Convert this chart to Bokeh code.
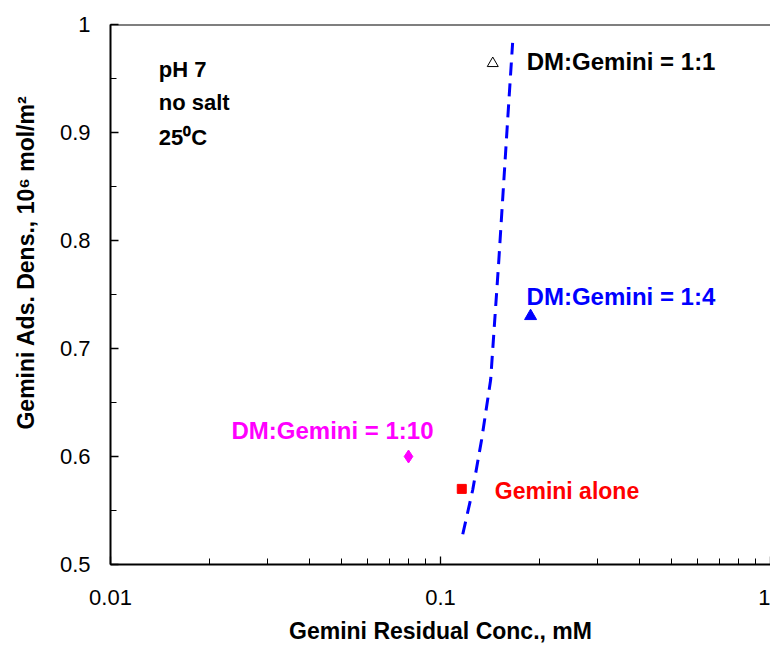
import numpy as np
from bokeh.plotting import figure
from bokeh.models import (Range1d, FixedTicker, SingleIntervalTicker,
                          CustomJSTickFormatter, Label, Span)
from bokeh.embed import file_html
from bokeh.resources import INLINE

# ---- data ----
alone_x = [0.116]
alone_y = [0.570]
r1_10_x = [0.080]
r1_10_y = [0.600]
r1_4_x = [0.1875]
r1_4_y = [0.730]
r1_1_x = [0.144]
r1_1_y = [0.964]
fit_x = [0.1168, 0.1252, 0.1333, 0.1419, 0.1501, 0.1598, 0.1654]
fit_y = [0.528, 0.569, 0.616, 0.671, 0.780, 0.912, 0.983]
x_major_ticks = [0.01, 0.1, 1.0]
x_minor_ticks = [m * 10.0 ** e for e in (-2, -1) for m in range(2, 10)]

FONT = "Liberation Sans"

p = figure(width=770, height=646, x_axis_type="log",
           x_range=Range1d(0.01, 1.0), y_range=Range1d(0.5, 1.0),
           output_backend="svg", toolbar_location=None,
           min_border_left=110, min_border_right=0,
           min_border_top=24, min_border_bottom=81)
p.xgrid.visible = False
p.ygrid.visible = False
p.outline_line_color = None
p.background_fill_color = "white"
p.border_fill_color = "white"

fmt = CustomJSTickFormatter(code="return String(parseFloat(tick.toPrecision(6)))")

p.xaxis[0].ticker = FixedTicker(ticks=x_major_ticks, minor_ticks=x_minor_ticks)
p.yaxis[0].ticker = SingleIntervalTicker(interval=0.1, num_minor_ticks=2)
for ax in (p.xaxis[0], p.yaxis[0]):
    ax.formatter = fmt
    ax.axis_line_width = 2
    ax.axis_line_color = "black"
    ax.major_tick_in = 8
    ax.major_tick_out = 0
    ax.minor_tick_in = 6
    ax.minor_tick_out = 0
    ax.major_tick_line_color = "black"
    ax.minor_tick_line_color = "black"
    ax.major_tick_line_width = 1.3
    ax.minor_tick_line_width = 1
    ax.major_label_text_font = FONT
    ax.major_label_text_font_size = "22px"
    ax.major_label_text_color = "black"
    ax.axis_label_text_font = FONT
    ax.axis_label_text_font_style = "bold"
    ax.axis_label_text_font_size = "23px"
    ax.axis_label_text_color = "black"

p.xaxis[0].major_label_standoff = 25
p.yaxis[0].major_label_standoff = 20
p.xaxis[0].axis_label = "Gemini Residual Conc., mM"
p.xaxis[0].axis_label_standoff = 10
pad = "\u00a0" * 10
p.yaxis[0].axis_label = pad + "Gemini Ads. Dens., 10\u2076 mol/m\u00b2"
p.yaxis[0].axis_label_standoff = 18

# top border line
p.add_layout(Span(location=1.0, dimension="width", line_color="black", line_width=2))

# fitted curve
p.line(fit_x, fit_y, line_color="#0000FF", line_width=3, line_dash="13 8")

# points
p.scatter(r1_1_x, r1_1_y, marker="triangle", size=11, fill_color=None,
          line_color="black", line_width=1)
p.scatter(r1_4_x, r1_4_y, marker="triangle", size=12, fill_color="#0000FF",
          line_color="#0000FF")
p.scatter(r1_10_x, r1_10_y, marker="diamond", size=13, fill_color="#FF00FF",
          line_color="#FF00FF")
p.scatter(alone_x, alone_y, marker="square", size=9, fill_color="#FF0000",
          line_color="#FF0000")


def lab(x, y, text, color, size, dx=0, dy=0, align="left"):
    p.add_layout(Label(x=x, y=y, x_offset=dx, y_offset=dy, text=text,
                       text_font=FONT, text_font_style="bold",
                       text_font_size=size, text_color=color,
                       text_align=align, text_baseline="alphabetic"))


lab(r1_1_x[0], r1_1_y[0], "DM:Gemini = 1:1", "black", "24px", dx=34, dy=2)
lab(r1_4_x[0], r1_4_y[0], "DM:Gemini = 1:4", "#0000FF", "24px", dx=-4, dy=20)
lab(r1_10_x[0], r1_10_y[0], "DM:Gemini = 1:10", "#FF00FF", "24px", dx=-76, dy=26,
    align="center")
lab(alone_x[0], alone_y[0], "Gemini alone", "#FF0000", "23px", dx=33, dy=-2)

# condition notes
lab(0.0140, 0.9584, "pH 7", "black", "22px")
lab(0.0140, 0.9279, "no salt", "black", "22px")
lab(0.0140, 0.8956, "25\u2070C", "black", "22px")

open("out.html", "w").write(file_html(p, INLINE))
